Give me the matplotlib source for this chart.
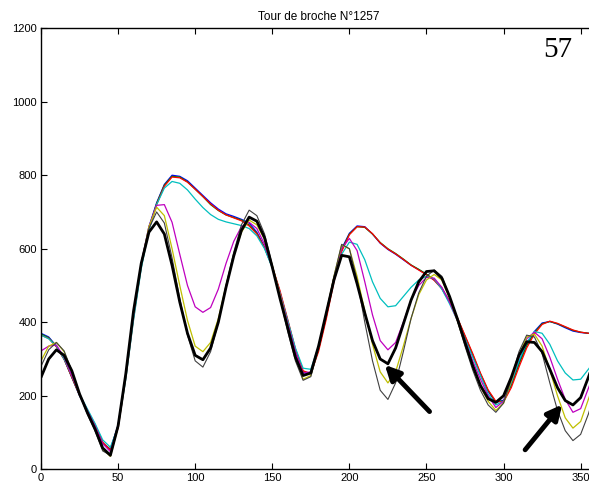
import matplotlib.pyplot as plt
import numpy as np

# crank angle (deg) sampled every 5 deg
angle = np.arange(0, 361, 5)

blue = [370, 360, 335, 300, 250, 200, 160, 120, 70, 55, 120, 260, 420, 560, 660, 725, 775, 800, 797, 785,
        765, 745, 725, 708, 695, 688, 680, 670, 645, 605, 550, 480, 400, 320, 262, 262, 330, 420, 520, 600,
        642, 662, 660, 640, 615, 598, 585, 570, 555, 543, 530, 515, 492, 455, 410, 360, 310, 258, 212, 182,
        188, 232, 290, 340, 375, 398, 402, 395, 385, 376, 372, 370, 368]
green = [368, 358, 334, 300, 250, 201, 161, 121, 72, 54, 118, 255, 415, 555, 656, 723, 773, 797, 795, 782,
         762, 742, 720, 704, 692, 685, 678, 665, 642, 602, 550, 482, 404, 324, 265, 262, 326, 414, 515, 597,
         640, 660, 658, 640, 617, 600, 587, 572, 556, 544, 531, 516, 493, 456, 412, 362, 312, 260, 214, 183,
         186, 228, 285, 336, 372, 396, 402, 396, 387, 378, 373, 370, 368]
red = [365, 356, 333, 299, 251, 202, 162, 122, 74, 52, 112, 248, 408, 550, 652, 720, 770, 795, 793, 781,
       762, 742, 722, 705, 692, 684, 676, 662, 640, 603, 552, 486, 408, 328, 268, 260, 320, 408, 510, 592,
       638, 660, 659, 641, 616, 599, 586, 571, 555, 542, 529, 514, 491, 455, 413, 364, 315, 262, 216, 185,
       183, 222, 278, 330, 368, 394, 403, 397, 388, 379, 373, 370, 368]
cyan = [365, 355, 335, 300, 255, 205, 165, 125, 80, 60, 115, 245, 405, 545, 650, 720, 765, 783, 778, 760,
        735, 712, 693, 680, 673, 668, 663, 655, 635, 600, 548, 480, 405, 330, 275, 272, 335, 425, 515, 585,
        618, 612, 570, 510, 465, 442, 445, 470, 495, 515, 525, 518, 490, 450, 405, 355, 305, 255, 205, 175,
        185, 235, 295, 345, 375, 370, 340, 295, 262, 243, 245, 272, 300]
magenta = [322, 335, 338, 305, 255, 205, 160, 118, 70, 48, 118, 255, 420, 560, 660, 718, 720, 672, 585, 500,
           442, 427, 440, 490, 560, 620, 660, 672, 655, 612, 550, 478, 398, 320, 262, 265, 335, 425, 520, 600,
           628, 595, 510, 420, 350, 325, 345, 400, 460, 500, 522, 520, 495, 455, 405, 350, 295, 245, 200, 168,
           185, 240, 305, 355, 373, 355, 305, 245, 190, 155, 165, 220, 275]
yellow = [295, 335, 345, 320, 265, 205, 155, 110, 55, 35, 115, 255, 425, 560, 660, 713, 690, 600, 500, 405,
          335, 320, 345, 410, 500, 580, 645, 678, 665, 625, 555, 475, 390, 305, 245, 255, 330, 425, 525, 610,
          600, 525, 430, 340, 265, 235, 265, 335, 410, 475, 515, 530, 515, 465, 405, 340, 280, 225, 185, 160,
          180, 240, 310, 360, 368, 335, 270, 200, 140, 112, 130, 190, 250]
grey = [280, 325, 345, 322, 268, 205, 150, 105, 50, 38, 115, 255, 425, 560, 655, 700, 670, 575, 465, 365,
        295, 278, 320, 400, 500, 590, 665, 705, 690, 640, 555, 465, 375, 295, 242, 252, 330, 425, 525, 612,
        600, 515, 400, 295, 215, 190, 235, 320, 410, 480, 525, 542, 525, 470, 405, 335, 270, 215, 175, 155,
        180, 245, 320, 365, 360, 315, 235, 160, 105, 78, 95, 150, 220]
black = [250, 300, 325, 310, 268, 205, 155, 110, 58, 38, 118, 260, 430, 560, 645, 673, 640, 555, 455, 370,
         310, 298, 330, 400, 495, 580, 650, 686, 675, 630, 550, 465, 385, 305, 255, 262, 335, 425, 515, 582,
         578, 505, 425, 350, 300, 287, 330, 395, 460, 510, 538, 540, 520, 470, 410, 345, 282, 228, 192, 182,
         200, 250, 310, 347, 345, 320, 272, 222, 187, 175, 195, 250, 310]

fig = plt.figure(figsize=(5.89, 4.86), dpi=100)
ax = fig.add_axes([0.0696, 0.0344, 0.9424, 0.9076])

style = dict(solid_joinstyle="round", solid_capstyle="round")
ax.plot(angle, blue, color=(0, 0, 1), lw=0.9, **style)
ax.plot(angle, green, color=(0, 0.5, 0), lw=0.9, **style)
ax.plot(angle, red, color=(1, 0, 0), lw=0.9, **style)
ax.plot(angle, cyan, color=(0, 0.75, 0.75), lw=0.9, **style)
ax.plot(angle, magenta, color=(0.75, 0, 0.75), lw=0.9, **style)
ax.plot(angle, yellow, color=(0.75, 0.75, 0), lw=0.9, **style)
ax.plot(angle, grey, color=(0.25, 0.25, 0.25), lw=0.8, **style)
ax.plot(angle, black, color="k", lw=2.0, **style)

arrow = dict(arrowstyle="-|>", lw=3.5, color="k", mutation_scale=22, shrinkA=0, shrinkB=0)
ax.annotate("", xy=(223, 284), xytext=(252, 157), arrowprops=arrow)
ax.annotate("", xy=(338, 176), xytext=(314, 53), arrowprops=arrow)

ax.text(335, 1140, "57", family=["Liberation Serif", "DejaVu Serif"], fontsize=21,
        ha="center", va="center")

ax.set_xlim(0, 360)
ax.set_ylim(0, 1200)
ax.set_xticks(np.arange(0, 361, 50))
ax.set_yticks(np.arange(0, 1201, 200))
ax.tick_params(direction="in", top=True, right=True, length=4, labelsize=8, pad=3)
for lab in ax.get_xticklabels() + ax.get_yticklabels():
    lab.set_family(["Liberation Sans", "DejaVu Sans"])
for sp in ax.spines.values():
    sp.set_linewidth(1.0)
ax.set_title("Tour de broche N°1257", fontsize=8.5, family=["Liberation Sans", "DejaVu Sans"], pad=6)

fig.savefig("out.png", dpi=100)
